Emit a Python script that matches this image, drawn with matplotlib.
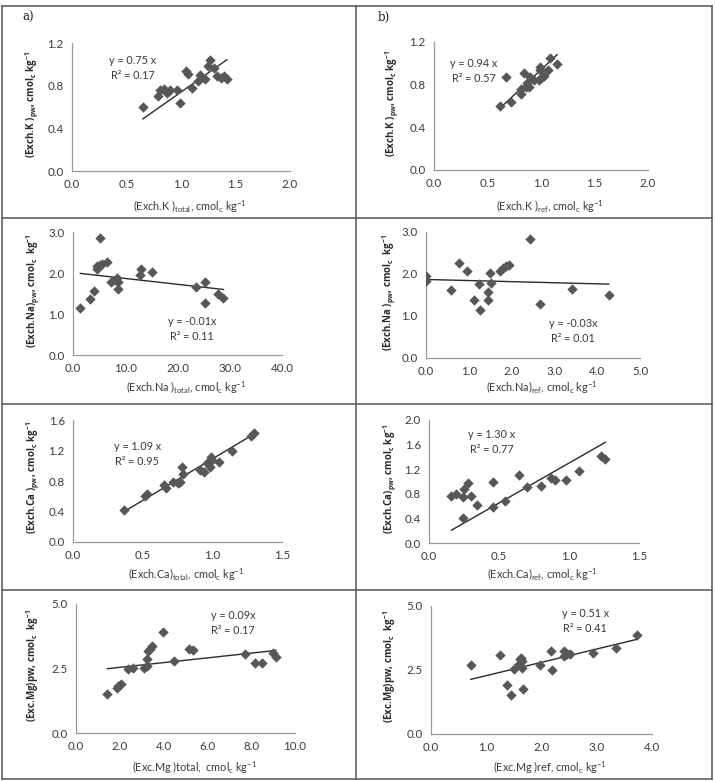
import matplotlib
matplotlib.use("Agg")
import matplotlib.pyplot as plt
from matplotlib.lines import Line2D
from matplotlib import font_manager
import numpy as np

plt.rcParams['font.family'] = ['Lato', 'DejaVu Sans']
plt.rcParams['mathtext.fontset'] = 'custom'
plt.rcParams['mathtext.rm'] = 'Lato'
plt.rcParams['mathtext.it'] = 'Lato'
plt.rcParams['mathtext.bf'] = 'Lato:bold'
plt.rcParams['mathtext.default'] = 'regular'

W, H = 715, 781

# ---------------- data ----------------
k_total_x = [0.65, 0.99, 0.79, 0.81, 0.84, 0.90, 0.96, 0.87, 1.05, 1.06, 1.10, 1.16, 1.17, 1.22, 1.25, 1.27, 1.30, 1.33, 1.37, 1.39, 1.42]
k_total_y = [0.60, 0.64, 0.70, 0.755, 0.77, 0.755, 0.76, 0.73, 0.94, 0.91, 0.78, 0.84, 0.90, 0.86, 0.98, 1.04, 0.97, 0.89, 0.87, 0.89, 0.86]

k_ref_x = [0.62, 0.72, 0.67, 0.81, 0.81, 0.84, 0.86, 0.87, 0.90, 0.89, 0.93, 0.98, 0.99, 1.01, 1.07, 1.08, 1.15, 1.03, 0.99]
k_ref_y = [0.60, 0.64, 0.87, 0.756, 0.71, 0.91, 0.78, 0.82, 0.875, 0.775, 0.84, 0.84, 0.94, 0.87, 0.94, 1.05, 0.99, 0.88, 0.97]

na_total_x = [1.4, 3.2, 4.1, 4.5, 4.6, 5.1, 5.2, 5.6, 6.5, 7.3, 8.1, 8.5, 8.7, 8.7, 12.9, 13.1, 15.1, 23.6, 25.3, 25.3, 27.7, 28.8]
na_total_y = [1.15, 1.36, 1.56, 2.09, 2.17, 2.20, 2.85, 2.23, 2.27, 1.77, 1.82, 1.88, 1.77, 1.62, 1.96, 2.09, 2.03, 1.66, 1.78, 1.28, 1.50, 1.39]

na_ref_x = [0.0, 0.0, 0.59, 0.78, 0.95, 1.13, 1.23, 1.25, 1.45, 1.45, 1.50, 1.52, 1.73, 1.80, 1.87, 1.95, 2.44, 2.66, 3.41, 4.27]
na_ref_y = [1.96, 1.83, 1.61, 2.26, 2.08, 1.39, 1.76, 1.15, 1.37, 1.57, 2.02, 1.79, 2.08, 2.14, 2.20, 2.22, 2.83, 1.29, 1.65, 1.49]

ca_total_x = [0.368, 0.52, 0.53, 0.65, 0.67, 0.72, 0.75, 0.77, 0.78, 0.79, 0.91, 0.94, 0.96, 0.98, 0.99, 1.00, 1.05, 1.14, 1.28, 1.30]
ca_total_y = [0.42, 0.60, 0.63, 0.75, 0.71, 0.79, 0.78, 0.79, 0.98, 0.89, 0.94, 0.92, 1.04, 0.99, 1.12, 1.07, 1.05, 1.20, 1.39, 1.43]

ca_ref_x = [0.16, 0.19, 0.24, 0.25, 0.28, 0.30, 0.34, 0.24, 0.46, 0.46, 0.54, 0.64, 0.70, 0.80, 0.87, 0.90, 0.98, 1.07, 1.23, 1.26]
ca_ref_y = [0.77, 0.79, 0.74, 0.88, 0.97, 0.76, 0.61, 0.41, 0.99, 0.59, 0.69, 1.11, 0.91, 0.92, 1.05, 1.02, 1.03, 1.17, 1.42, 1.37]

mg_total_x = [1.43, 1.86, 1.93, 2.04, 2.39, 2.62, 3.10, 3.23, 3.26, 3.30, 3.38, 3.45, 3.99, 4.49, 5.17, 5.33, 7.72, 8.17, 8.48, 8.98, 9.13]
mg_total_y = [1.51, 1.74, 1.81, 1.90, 2.49, 2.52, 2.52, 2.58, 2.88, 3.17, 3.27, 3.36, 3.91, 2.78, 3.27, 3.23, 3.06, 2.71, 2.71, 3.10, 2.93]

mg_ref_x = [0.72, 1.24, 1.38, 1.44, 1.51, 1.59, 1.61, 1.63, 1.65, 1.65, 1.67, 1.98, 2.18, 2.19, 2.40, 2.41, 2.47, 2.52, 2.93, 3.34, 3.72]
mg_ref_y = [2.71, 3.10, 1.91, 1.52, 2.53, 2.75, 2.92, 2.97, 2.84, 2.56, 1.75, 2.71, 3.23, 2.49, 3.23, 3.05, 3.14, 3.12, 3.17, 3.34, 3.88]

# trend lines (slope, intercept)
fits = [(0.72, 0.02), (0.94, 0.0), (-0.0143, 2.01), (-0.026, 1.87),
        (1.09, 0.0), (1.30, 0.0), (0.092, 2.36), (0.52, 1.76)]
equations = ["y = 0.75 x\nR² = 0.17", "y = 0.94 x\nR² = 0.57",
             "y = -0.01x\nR² = 0.11", "y = -0.03x\nR² = 0.01",
             "y = 1.09 x\nR² = 0.95", "y = 1.30 x\nR² = 0.77",
             "y = 0.09x\nR² = 0.17", "y = 0.51 x\nR² = 0.41"]
eq_pos = [(0.56, 0.97), (0.37, 0.93), (22.8, 0.63), (3.44, 0.64),
          (0.46, 1.16), (0.45, 1.64), (7.18, 4.26), (2.79, 4.41)]

xticks = [np.arange(0, 2.01, 0.5), np.arange(0, 2.01, 0.5),
          np.arange(0, 40.1, 10), np.arange(0, 5.01, 1),
          np.arange(0, 1.51, 0.5), np.arange(0, 1.51, 0.5),
          np.arange(0, 10.1, 2), np.arange(0, 4.01, 1)]
yticks = [np.arange(0, 1.21, 0.4), np.arange(0, 1.21, 0.4),
          np.arange(0, 3.01, 1), np.arange(0, 3.01, 1),
          np.arange(0, 1.61, 0.4), np.arange(0, 2.01, 0.4),
          np.arange(0, 5.01, 2.5), np.arange(0, 5.01, 2.5)]

xlabels = [r"(Exch.K )$_{total}$, cmol$_c$ kg$^{-1}$",
           r"(Exch.K )$_{ref}$, cmol$_c$ kg$^{-1}$",
           r"(Exch.Na )$_{total}$, cmol$_c$ kg$^{-1}$",
           r"(Exch.Na)$_{ref}$, cmol$_c$ kg$^{-1}$",
           r"(Exch.Ca)$_{total}$, cmol$_c$ kg$^{-1}$",
           r"(Exch.Ca)$_{ref}$, cmol$_c$ kg$^{-1}$",
           r"(Exc.Mg )total,  cmol$_c$ kg$^{-1}$",
           r"(Exc.Mg )ref, cmol$_c$ kg$^{-1}$"]
ylabels = [r"(Exch.K )$_{pw}$, cmol$_c$ kg$^{-1}$",
           r"(Exch.K )$_{pw}$, cmol$_c$ kg$^{-1}$",
           r"(Exch.Na)$_{pw}$, cmol$_c$  kg$^{-1}$",
           r"(Exch.Na )$_{pw}$, cmol$_c$  kg$^{-1}$",
           r"(Exch.Ca )$_{pw}$, cmol$_c$ kg$^{-1}$",
           r"(Exch.Ca)$_{pw}$, cmol$_c$ kg$^{-1}$",
           r"(Exc.Mg)pw, cmol$_c$  kg$^{-1}$",
           r"(Exc.Mg)pw, cmol$_c$  kg$^{-1}$"]

xs = [k_total_x, k_ref_x, na_total_x, na_ref_x, ca_total_x, ca_ref_x, mg_total_x, mg_ref_x]
ys = [k_total_y, k_ref_y, na_total_y, na_ref_y, ca_total_y, ca_ref_y, mg_total_y, mg_ref_y]

# ---------------- layout (pixels: left, right, top, bottom) ----------------
boxes = [(72, 290, 43, 171), (434, 648, 42, 170),
         (73, 282, 232, 355), (426, 640, 232, 358),
         (73, 282, 420, 542), (429, 639, 420, 543),
         (76, 295, 604, 733), (431, 652, 606, 734)]
xlab_y = [207, 207, 388, 388, 575, 575, 768, 768]
ylab_x = [32, 392, 33, 389, 33, 390, 33, 390]

# a bold family that is surely installed with a bold face
bold_family = "DejaVu Sans"
for cand in ["Open Sans", "Roboto", "Noto Sans", "Liberation Sans"]:
    try:
        fp = font_manager.FontProperties(family=cand, weight="bold")
        path = font_manager.findfont(fp, fallback_to_default=False)
        if "bold" in path.lower() or "Bold" in path:
            bold_family = cand
            break
    except Exception:
        pass

fig = plt.figure(figsize=(W / 100, H / 100), dpi=100)
fig.patch.set_facecolor("white")

TXT = "#3a3a3a"
for i in range(8):
    l, r, t, b = boxes[i]
    ax = fig.add_axes([l / W, 1 - b / H, (r - l) / W, (b - t) / H])
    ax.scatter(xs[i], ys[i], marker="D", s=28, color="#575757", linewidths=0, zorder=3)
    m, c = fits[i]
    xl = np.array([min(xs[i]), max(xs[i])])
    ax.plot(xl, m * xl + c, color="#2a2a2a", lw=1.0, zorder=2)
    ax.text(eq_pos[i][0], eq_pos[i][1], equations[i], ha="center", va="center",
            fontsize=7.8, color=TXT, linespacing=1.45)
    xt, yt = xticks[i], yticks[i]
    ax.set_xlim(xt[0], xt[-1])
    ax.set_ylim(yt[0], yt[-1])
    ax.set_xticks(xt)
    ax.set_yticks(yt)
    ax.set_xticklabels([f"{v:.1f}" for v in xt])
    ax.set_yticklabels([f"{v:.1f}" for v in yt])
    ax.tick_params(length=0, labelsize=8.3, labelcolor=TXT, pad=6)
    for s in ("top", "right"):
        ax.spines[s].set_visible(False)
    for s in ("left", "bottom"):
        ax.spines[s].set_color("#9a9a9a")
        ax.spines[s].set_linewidth(0.9)
    ax.patch.set_alpha(0)
    fig.text((l + r) / 2 / W + 0.012, 1 - xlab_y[i] / H, xlabels[i], ha="center", va="center",
             fontsize=7.8, color=TXT)
    fig.text(ylab_x[i] / W, 1 - ((t + b) / 2 - 3) / H, ylabels[i], ha="center", va="center",
             rotation=90, fontsize=7.0, fontweight="bold", family=[bold_family, "DejaVu Sans"],
             color="#2a2a2a")

fig.text(28 / W, 1 - 17 / H, "a)", fontsize=8.5, family="DejaVu Serif", ha="center", va="center", color="#222222")
fig.text(384 / W, 1 - 17 / H, "b)", fontsize=8.5, family="DejaVu Serif", ha="center", va="center", color="#222222")

# table borders
hl = [6, 218, 404, 590, 779]
vl = [2, 356, 712]
for yv in hl:
    fig.add_artist(Line2D([2 / W, 712 / W], [1 - yv / H, 1 - yv / H], color="#555555", lw=1.1))
for xv in vl:
    fig.add_artist(Line2D([xv / W, xv / W], [1 - 6 / H, 1 - 779 / H], color="#555555", lw=1.1))

fig.savefig("out.png", dpi=100, facecolor="white")
